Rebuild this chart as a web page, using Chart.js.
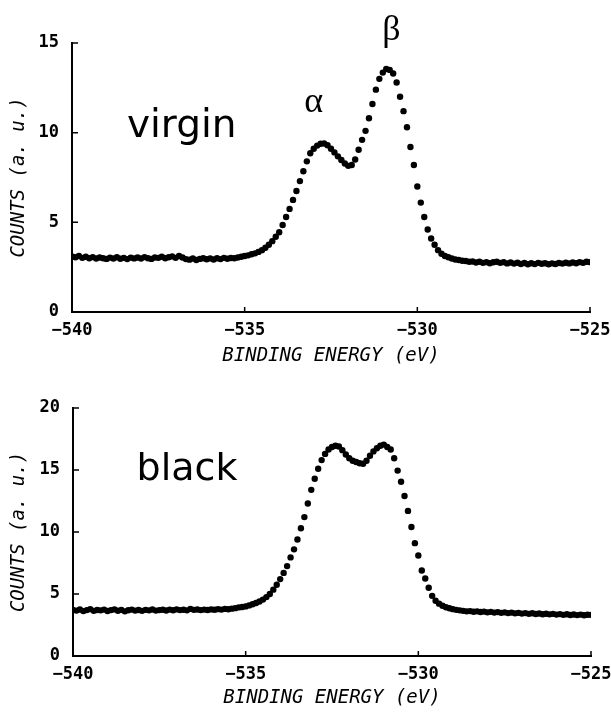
<!DOCTYPE html>
<html lang="en">
<head>
<meta charset="UTF-8" />
<title>O 1s spectra</title>
<style>
  html, body { margin: 0; padding: 0; background: #fff; }
  #wrap { position: relative; width: 611px; height: 714px; }
  .panel { position: absolute; left: 0; width: 611px; }
  #top { top: 0; height: 370px; }
  #bottom { top: 370px; height: 344px; }
</style>
</head>
<body>
<div id="wrap">
  <div class="panel" id="top"><canvas id="virginChart" width="611" height="370"></canvas></div>
  <div class="panel" id="bottom"><canvas id="blackChart" width="611" height="344"></canvas></div>
</div>
<script src="https://cdn.jsdelivr.net/npm/chart.js@4.4.0/dist/chart.umd.min.js"></script>
<script>
// binding energy grid: -540 eV .. -525 eV, 0.1 eV step
const ENERGY_START = -540;
const ENERGY_STEP = 0.1;
const X_TICKS = [-540, -535, -530, -525];

// virgin sample, one row = 1 eV
const virginCounts = [
  3.10, 3.05, 3.12, 3.02, 3.08, 3.00, 3.06, 2.98, 3.04, 3.00,
  2.96, 3.03, 2.98, 3.05, 2.97, 3.02, 2.95, 3.03, 2.99, 3.04,
  2.98, 3.06, 3.00, 2.96, 3.04, 3.02, 3.08, 3.00, 3.05, 3.10,
  3.02, 3.12, 3.04, 2.95, 2.92, 2.98, 2.90, 2.96, 3.00, 2.94,
  2.99, 2.93, 3.00, 2.95, 3.02, 2.97, 3.01, 3.00, 3.04, 3.08,
  3.12, 3.16, 3.22, 3.27, 3.35, 3.45, 3.58, 3.75, 3.95, 4.20,
  4.45, 4.85, 5.30, 5.75, 6.25, 6.75, 7.30, 7.85, 8.40, 8.85,
  9.10, 9.28, 9.38, 9.40, 9.30, 9.10, 8.90, 8.68, 8.48, 8.28,
  8.15, 8.20, 8.50, 9.05, 9.60, 10.10, 10.80, 11.60, 12.40, 13.00,
  13.35, 13.55, 13.50, 13.30, 12.80, 12.00, 11.20, 10.30, 9.20, 8.20,
  7.00, 6.10, 5.30, 4.60, 4.10, 3.75, 3.45, 3.25, 3.12, 3.05,
  2.98, 2.93, 2.90, 2.86, 2.84, 2.80, 2.82, 2.76, 2.80, 2.74,
  2.78, 2.72, 2.77, 2.80, 2.74, 2.78, 2.71, 2.76, 2.70, 2.75,
  2.68, 2.73, 2.66, 2.72, 2.67, 2.74, 2.69, 2.72, 2.66, 2.71,
  2.68, 2.73, 2.70, 2.75, 2.71, 2.76, 2.72, 2.78, 2.74, 2.80,
  2.78
];

// black sample
const blackCounts = [
  3.72, 3.66, 3.75, 3.62, 3.70, 3.78, 3.64, 3.71, 3.68, 3.74,
  3.63, 3.70, 3.76, 3.65, 3.72, 3.60, 3.69, 3.74, 3.66, 3.71,
  3.64, 3.72, 3.68, 3.75, 3.66, 3.70, 3.73, 3.67, 3.74, 3.69,
  3.76, 3.70, 3.73, 3.68, 3.80, 3.72, 3.75, 3.70, 3.74, 3.71,
  3.76, 3.73, 3.78, 3.74, 3.80, 3.77, 3.82, 3.86, 3.92, 3.95,
  4.00, 4.08, 4.17, 4.27, 4.40, 4.55, 4.75, 5.00, 5.35, 5.75,
  6.20, 6.70, 7.25, 7.95, 8.60, 9.40, 10.30, 11.20, 12.30, 13.40,
  14.30, 15.10, 15.80, 16.30, 16.65, 16.85, 16.95, 16.90, 16.60, 16.25,
  15.95, 15.75, 15.65, 15.55, 15.50, 15.75, 16.15, 16.50, 16.75, 16.95,
  17.05, 16.85, 16.65, 15.95, 14.95, 14.05, 12.90, 11.70, 10.40, 9.10,
  8.10, 6.90, 6.25, 5.50, 4.85, 4.45, 4.22, 4.05, 3.93, 3.85,
  3.78, 3.72, 3.68, 3.64, 3.60, 3.62, 3.57, 3.60, 3.55, 3.58,
  3.52, 3.56, 3.50, 3.54, 3.48, 3.52, 3.46, 3.50, 3.44, 3.48,
  3.42, 3.46, 3.40, 3.45, 3.39, 3.43, 3.37, 3.41, 3.36, 3.40,
  3.34, 3.38, 3.32, 3.37, 3.31, 3.35, 3.30, 3.34, 3.29, 3.33,
  3.32
];

const virginYTicks = [0, 5, 10, 15];
const blackYTicks = [0, 5, 10, 15, 20];

const TICK_FONT = { family: "'DejaVu Sans Mono', monospace", size: 17, weight: 'bold' };
const TITLE_FONT = { family: "'DejaVu Sans Mono', monospace", size: 19, style: 'italic' };

function toPoints(counts) {
  return counts.map((c, i) => ({ x: +(ENERGY_START + i * ENERGY_STEP).toFixed(2), y: c }));
}

function minusSign(v) {
  return v < 0 ? '\u2212' + Math.abs(v) : String(v);
}

// short tick marks pointing into the plot
const innerTicks = {
  id: 'innerTicks',
  afterDraw(chart) {
    const { ctx, chartArea, scales: { x, y } } = chart;
    ctx.save();
    ctx.strokeStyle = '#000';
    ctx.lineWidth = 1.5;
    ctx.beginPath();
    X_TICKS.forEach(v => {
      const px = x.getPixelForValue(v);
      ctx.moveTo(px, chartArea.bottom);
      ctx.lineTo(px, chartArea.bottom - 5);
    });
    y.ticks.forEach(t => {
      const py = y.getPixelForValue(t.value);
      ctx.moveTo(chartArea.left, py);
      ctx.lineTo(chartArea.left + 6, py);
    });
    ctx.stroke();
    ctx.restore();
  }
};

// sample name and peak letters, placed in data coordinates
const labelText = {
  id: 'labelText',
  afterDatasetsDraw(chart, args, opts) {
    const { ctx, scales: { x, y } } = chart;
    ctx.save();
    ctx.fillStyle = '#000';
    ctx.textBaseline = 'alphabetic';
    (opts.items || []).forEach(it => {
      ctx.font = it.font;
      ctx.textAlign = it.align;
      ctx.fillText(it.text, x.getPixelForValue(it.x), y.getPixelForValue(it.y));
    });
    ctx.restore();
  }
};

function makeChart(id, counts, yTicks, box, items) {
  const yMax = yTicks[yTicks.length - 1];
  return new Chart(document.getElementById(id), {
    type: 'scatter',
    data: {
      datasets: [{
        data: toPoints(counts),
        showLine: false,
        pointRadius: 3.2,
        pointBackgroundColor: '#000',
        pointBorderWidth: 0,
        pointHoverRadius: 3.2
      }]
    },
    options: {
      responsive: false,
      animation: false,
      events: [],
      layout: { padding: { left: 0, right: box.right, top: box.top, bottom: 0 } },
      plugins: {
        legend: { display: false },
        tooltip: { enabled: false },
        labelText: { items: items }
      },
      scales: {
        x: {
          type: 'linear',
          min: X_TICKS[0],
          max: X_TICKS[X_TICKS.length - 1],
          // fixed axis box; no extra room for the end labels
          afterFit: s => { s.height = box.xHeight; s.paddingLeft = 0; s.paddingRight = 0; },
          afterBuildTicks: s => { s.ticks = X_TICKS.map(v => ({ value: v })); },
          grid: { display: false, drawTicks: false },
          border: { display: true, color: '#000', width: 2 },
          ticks: { color: '#000', font: TICK_FONT, padding: 8, maxRotation: 0, callback: minusSign },
          title: {
            display: true,
            text: 'BINDING ENERGY (eV)',
            color: '#000',
            font: TITLE_FONT,
            padding: { top: 0, bottom: box.titleBottom }
          }
        },
        y: {
          min: 0,
          max: yMax,
          afterFit: s => { s.width = box.left; s.paddingTop = 0; s.paddingBottom = 0; },
          afterBuildTicks: s => { s.ticks = yTicks.map(v => ({ value: v })); },
          grid: { display: false, drawTicks: false },
          border: { display: true, color: '#000', width: 2 },
          ticks: { color: '#000', font: TICK_FONT, padding: 13 },
          title: {
            display: true,
            text: 'COUNTS (a. u.)',
            color: '#000',
            font: TITLE_FONT,
            padding: { top: 8, bottom: 0 }
          }
        }
      }
    },
    plugins: [innerTicks, labelText]
  });
}

makeChart('virginChart', virginCounts, virginYTicks,
  { left: 72, right: 21, top: 43, xHeight: 58, titleBottom: 3 },
  [
    { text: 'virgin', x: -538.41, y: 9.76, font: "39px 'DejaVu Sans'", align: 'left' },
    { text: '\u03b1', x: -533.0, y: 11.15, font: "36px 'Liberation Serif'", align: 'center' },
    { text: '\u03b2', x: -530.75, y: 15.17, font: "36px 'Liberation Serif'", align: 'center' }
  ]);

makeChart('blackChart', blackCounts, blackYTicks,
  { left: 73, right: 20, top: 38, xHeight: 58, titleBottom: 5 },
  [
    { text: 'black', x: -538.16, y: 14.23, font: "38px 'DejaVu Sans'", align: 'left' }
  ]);
</script>
</body>
</html>
